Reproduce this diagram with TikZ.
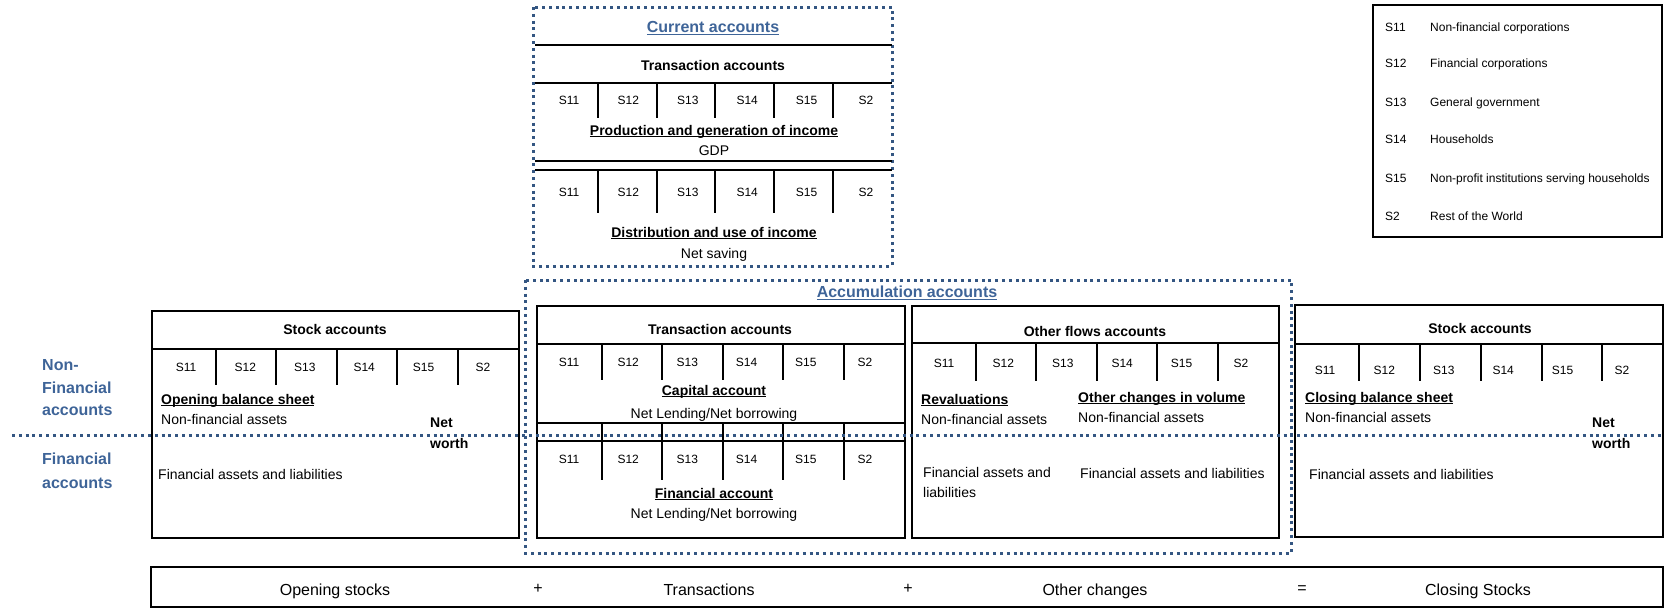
\documentclass[tikz,border=0pt]{standalone}
\usepackage{fontspec}
\setmainfont{Liberation Sans}
\definecolor{accblue}{RGB}{62,100,152}
\definecolor{dotblue}{RGB}{52,86,130}
\newsavebox\ulbox
\newcommand{\ulbar}[1]{\sbox\ulbox{#1}\rlap{\rule[-2.4pt]{\wd\ulbox}{1.1pt}}\usebox\ulbox}

\begin{document}
\begin{tikzpicture}[
    x=1pt, y=-1pt,
    frame/.style={draw=black, line width=2pt},
    rule/.style={draw=black, line width=2pt},
    dotframe/.style={draw=dotblue, line width=3pt, dash pattern=on 3pt off 3.8pt},
    txt/.style={inner sep=0pt, text height=10pt, text depth=0pt, font=\fontsize{14}{17}\selectfont},
    head/.style={txt, font=\fontsize{14}{17}\selectfont\bfseries},
    sector/.style={inner sep=0pt, text height=8.6pt, text depth=0pt, font=\fontsize{12}{14}\selectfont},
    group/.style={inner sep=0pt, text height=11.5pt, text depth=0pt, text=accblue, font=\fontsize{16}{19}\selectfont\bfseries},
    lines/.style={inner sep=0pt, anchor=north west, align=left, font=\fontsize{14}{20}\selectfont},
    side/.style={inner sep=0pt, anchor=north west, align=left, text=accblue, font=\fontsize{16}{22.5}\selectfont\bfseries},
    total/.style={inner sep=0pt, text height=11.5pt, text depth=0pt, font=\fontsize{16}{19}\selectfont}
]

    \useasboundingbox (0,0) rectangle (1664,608);

    % Current accounts ===========================
    \draw[dotframe] (533,7) rectangle (892,266);
    \node[group] (current) at (713,27) {\ulbar{Current accounts}};
    \draw[rule] (535,45) -- (892,45);
    \node[head] (cta) at (713,65) {Transaction accounts};
    \draw[rule] (535,83) -- (892,83);
    \foreach \s [count=\i from 0] in {S11,S12,S13,S14,S15,S2}
        \node[sector] (pg\s) at ({569+59.4*\i},100) {\s};
    \foreach \x in {598,657,715,774,833}
        \draw[rule] (\x,83) -- (\x,118);
    \node[head] (prod) at (714,130) {\ulbar{Production and generation of income}};
    \node[txt] (gdp) at (714,150) {GDP};
    \draw[rule] (535,161) -- (892,161);
    \draw[rule] (535,170) -- (892,170);
    \foreach \s [count=\i from 0] in {S11,S12,S13,S14,S15,S2}
        \node[sector] (du\s) at ({569+59.4*\i},192) {\s};
    \foreach \x in {598,657,715,774,833}
        \draw[rule] (\x,170) -- (\x,213);
    \node[head] (distr) at (714,232) {\ulbar{Distribution and use of income}};
    \node[txt] (saving) at (714,253) {Net saving};

    % Sector legend ===========================
    \draw[frame] (1373,5) rectangle (1662,237);
    \foreach \s/\d/\y [count=\i] in {S11/Non-financial corporations/27,
                                    S12/Financial corporations/63,
                                    S13/General government/102,
                                    S14/Households/139,
                                    S15/Non-profit institutions serving households/178,
                                    S2/Rest of the World/216}
    {
        \node[sector, anchor=west] (key\i) at (1385,\y) {\s};
        \node[sector, anchor=west] (desc\i) at (1430,\y) {\d};
    }

    % Side labels ===========================
    \node[side] (nonfin) at (42,359.5) {Non-\\Financial\\accounts};
    \node[side, font=\fontsize{16}{24}\selectfont\bfseries] (fin) at (42,452.3) {Financial\\accounts};

    % Opening stock accounts ===========================
    \draw[frame] (152,311) rectangle (519,538);
    \node[head] (osa) at (335,329) {Stock accounts};
    \draw[rule] (152,349) -- (519,349);
    \foreach \s [count=\i from 0] in {S11,S12,S13,S14,S15,S2}
        \node[sector] (ob\s) at ({186+59.4*\i},367) {\s};
    \foreach \x in {216,276,337,397,458}
        \draw[rule] (\x,349) -- (\x,385);
    \node[head, anchor=west] (obs) at (161,399) {\ulbar{Opening balance sheet}};
    \node[txt, anchor=west] (obnf) at (161,419) {Non-financial assets};
    \node[lines, font=\fontsize{14}{21}\selectfont\bfseries] (obnw) at (430,418) {Net\\worth};
    \node[txt, anchor=west] (obfa) at (158,474) {Financial assets and liabilities};

    % Accumulation accounts ===========================
    \draw[dotframe] (525,280) rectangle (1291,553);
    \node[group] (accum) at (907,292) {\ulbar{Accumulation accounts}};

    % Transaction accounts
    \draw[frame] (537,306) rectangle (905,538);
    \node[head] (ata) at (720,329) {Transaction accounts};
    \draw[rule] (537,344) -- (905,344);
    \foreach \s [count=\i from 0] in {S11,S12,S13,S14,S15,S2}
        \node[sector] (ca\s) at ({569+59.2*\i},362) {\s};
    \foreach \x in {602,662,723,783,844}
        \draw[rule] (\x,344) -- (\x,380);
    \node[head] (capital) at (714,390) {\ulbar{Capital account}};
    \node[txt] (canl) at (714,413) {Net Lending/Net borrowing};
    \draw[rule] (537,423) -- (905,423);
    \draw[rule] (537,441) -- (905,441);
    \foreach \x in {602,662,723,783,844}
        \draw[rule] (\x,423) -- (\x,441);
    \foreach \s [count=\i from 0] in {S11,S12,S13,S14,S15,S2}
        \node[sector] (fa\s) at ({569+59.2*\i},459) {\s};
    \foreach \x in {602,662,723,783,844}
        \draw[rule] (\x,441) -- (\x,480);
    \node[head] (financial) at (714,493) {\ulbar{Financial account}};
    \node[txt] (fanl) at (714,513) {Net Lending/Net borrowing};

    % Other flows accounts
    \draw[frame] (912,306) rectangle (1279,538);
    \node[head] (ofa) at (1095,331) {Other flows accounts};
    \draw[rule] (912,343) -- (1279,343);
    \foreach \s [count=\i from 0] in {S11,S12,S13,S14,S15,S2}
        \node[sector] (of\s) at ({944+59.4*\i},363) {\s};
    \foreach \x in {976,1036,1097,1157,1218}
        \draw[rule] (\x,343) -- (\x,381);
    \node[head, anchor=west] (reval) at (921,399) {\ulbar{Revaluations}};
    \node[txt, anchor=west] (revnf) at (921,419) {Non-financial assets};
    \node[head, anchor=west] (ocv) at (1078,397) {\ulbar{Other changes in volume}};
    \node[txt, anchor=west] (ocvnf) at (1078,417) {Non-financial assets};
    \node[lines] (revfa) at (923,467) {Financial assets and\\liabilities};
    \node[txt, anchor=west] (ocvfa) at (1080,473) {Financial assets and liabilities};

    % Closing stock accounts ===========================
    \draw[frame] (1295,305) rectangle (1663,537);
    \node[head] (csa) at (1480,328) {Stock accounts};
    \draw[rule] (1295,344) -- (1663,344);
    \foreach \s [count=\i from 0] in {S11,S12,S13,S14,S15,S2}
        \node[sector] (cb\s) at ({1325+59.4*\i},370) {\s};
    \foreach \x in {1359,1420,1481,1542,1602}
        \draw[rule] (\x,344) -- (\x,381);
    \node[head, anchor=west] (cbs) at (1305,397) {\ulbar{Closing balance sheet}};
    \node[txt, anchor=west] (cbnf) at (1305,417) {Non-financial assets};
    \node[lines, font=\fontsize{14}{21}\selectfont\bfseries] (cbnw) at (1592,418) {Net\\worth};
    \node[txt, anchor=west] (cbfa) at (1309,474) {Financial assets and liabilities};

    % Financial split ===========================
    \draw[dotframe] (12,435) -- (1664,435);

    % Stock-flow identity ===========================
    \draw[frame] (151,567) rectangle (1663,607);
    \node[total] (opening) at (335,590) {Opening stocks};
    \node[total] (plusa) at (538,588) {+};
    \node[total] (trans) at (709,590) {Transactions};
    \node[total] (plusb) at (908,588) {+};
    \node[total] (other) at (1095,590) {Other changes};
    \node[total] (equals) at (1302,588) {=};
    \node[total] (closing) at (1478,590) {Closing Stocks};

\end{tikzpicture}
\end{document}
